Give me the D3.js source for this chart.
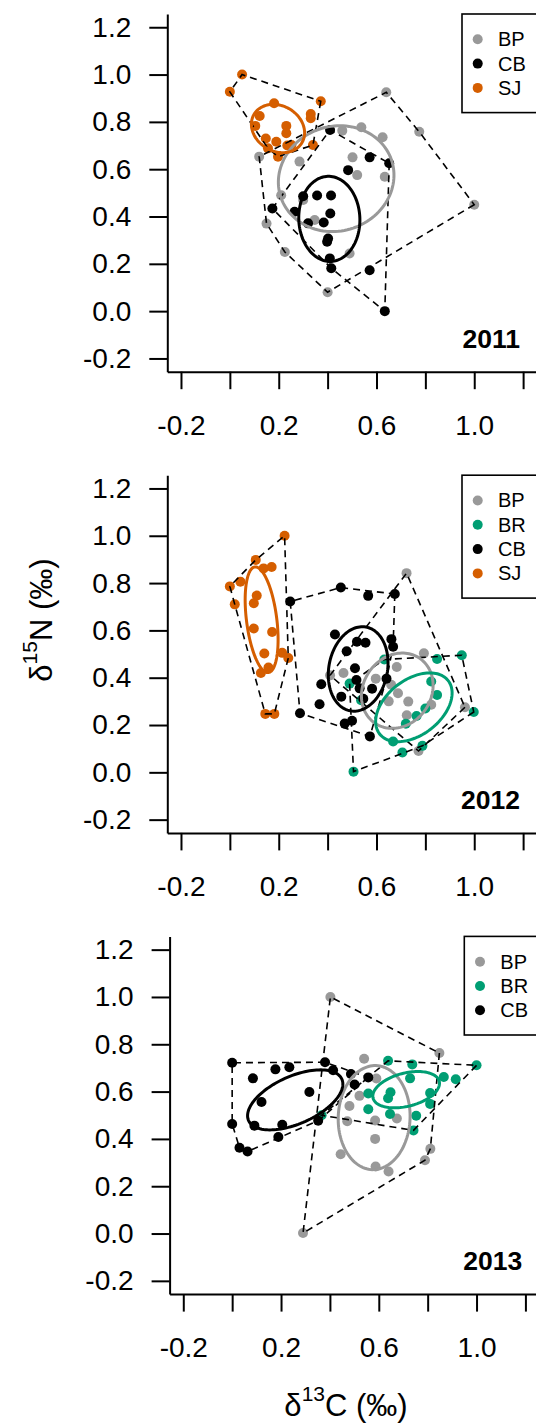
<!DOCTYPE html>
<html>
<head>
<meta charset="utf-8">
<script src="https://cdn.jsdelivr.net/npm/d3@7"></script>
<style>
  body { margin: 0; background: #fff; }
  svg { display: block; }
  text { font-family: Arial, "Liberation Sans", sans-serif; fill: #000; }
</style>
</head>
<body>
<div id="chart"></div>
<script>
// groups and ticks
const groups = ["BP", "BR", "CB", "SJ"];
const years = ["2011", "2012", "2013"];
const yTicks = [-0.2, 0, 0.2, 0.4, 0.6, 0.8, 1.0, 1.2];
const xTicks = [-0.2, 0, 0.2, 0.4, 0.6, 0.8, 1.0, 1.2];
const xTickLabels = [-0.2, 0.2, 0.6, 1.0];

// 2011 isotope values [d13C, d15N]
const bp2011 = [[0.64,0.925],[0.775,0.758],[1.0,0.45],[0.40,0.08],[0.225,0.25],[0.15,0.37],[0.12,0.653],
  [0.285,0.632],[0.46,0.763],[0.538,0.777],[0.625,0.735],[0.502,0.65],[0.521,0.575],[0.634,0.568],
  [0.21,0.49],[0.30,0.47],[0.347,0.385],[0.49,0.244]];
const cb2011 = [[0.41,0.766],[0.572,0.65],[0.652,0.625],[0.484,0.596],[0.30,0.486],[0.357,0.489],[0.414,0.489],
  [0.174,0.434],[0.265,0.42],[0.411,0.413],[0.384,0.375],[0.32,0.371],[0.402,0.307],[0.398,0.293],
  [0.409,0.223],[0.415,0.181],[0.572,0.173],[0.634,0.0]];
const sj2011 = [[0.05,1.0],[0.0,0.927],[0.372,0.887],[0.181,0.879],[0.331,0.833],[0.331,0.815],[0.122,0.825],
  [0.104,0.783],[0.231,0.783],[0.231,0.752],[0.147,0.73],[0.19,0.716],[0.252,0.702],[0.34,0.702],
  [0.156,0.688],[0.197,0.653],[0.235,0.70]];

// 2012
const bp2012 = [[0.723,0.842],[0.794,0.503],[0.683,0.445],[0.465,0.42],[0.41,0.41],[0.597,0.396],[0.66,0.37],
  [0.688,0.334],[0.73,0.299],[0.65,0.30],[0.724,0.241],[0.824,0.286],[0.962,0.275],[0.772,0.09]];
const br2012 = [[0.506,0.003],[0.949,0.495],[0.848,0.479],[0.998,0.255],[0.706,0.084],[0.668,0.13],[0.788,0.112],
  [0.764,0.238],[0.72,0.205],[0.848,0.327],[0.824,0.384],[0.49,0.375],[0.537,0.305],[0.632,0.477],[0.80,0.27]];
const cb2012 = [[0.247,0.722],[0.454,0.781],[0.566,0.746],[0.675,0.754],[0.43,0.583],[0.478,0.512],[0.52,0.552],
  [0.555,0.548],[0.661,0.563],[0.668,0.531],[0.512,0.44],[0.374,0.372],[0.367,0.288],[0.287,0.25],
  [0.456,0.32],[0.518,0.39],[0.531,0.355],[0.582,0.353],[0.641,0.396],[0.47,0.206],[0.5,0.218],
  [0.573,0.152],[0.546,0.311]];
const sj2012 = [[0.224,1.0],[0.106,0.898],[0.171,0.868],[0.138,0.862],[0.0,0.786],[0.043,0.806],[0.02,0.71],
  [0.098,0.715],[0.11,0.747],[0.098,0.608],[0.173,0.593],[0.141,0.502],[0.214,0.505],[0.239,0.483],
  [0.127,0.42],[0.158,0.443],[0.145,0.247],[0.182,0.247]];

// 2013
const bp2013 = [[0.402,1.0],[0.848,0.763],[0.29,0.002],[0.811,0.358],[0.789,0.31],[0.64,0.262],[0.587,0.283],
  [0.444,0.335],[0.585,0.4],[0.54,0.739],[0.59,0.655],[0.521,0.582],[0.48,0.539],[0.471,0.475],
  [0.585,0.478],[0.674,0.486]];
const br2013 = [[1.0,0.711],[0.638,0.73],[0.737,0.715],[0.866,0.662],[0.915,0.652],[0.728,0.656],[0.81,0.594],
  [0.81,0.548],[0.648,0.597],[0.638,0.572],[0.557,0.592],[0.557,0.525],[0.646,0.505],[0.753,0.498],
  [0.742,0.436],[0.366,0.5]];
const cb2013 = [[0.0,0.722],[0.38,0.724],[0.085,0.656],[0.177,0.694],[0.234,0.703],[0.413,0.69],[0.486,0.674],
  [0.557,0.66],[0.501,0.63],[0.316,0.598],[0.12,0.556],[0.0,0.463],[0.091,0.456],[0.205,0.46],
  [0.352,0.477],[0.189,0.408],[0.03,0.363],[0.063,0.347]];

// standard ellipses: group, centre x, centre y, semi-major, semi-minor, angle (deg)
const ell2011 = [["BP",0.435,0.56,0.24,0.22,25],["CB",0.407,0.39,0.18,0.125,92],["SJ",0.197,0.772,0.115,0.095,-35]];
const ell2012 = [["BP",0.685,0.345,0.165,0.14,60],["BR",0.753,0.275,0.18,0.115,40],
  ["CB",0.525,0.437,0.18,0.12,80],["SJ",0.13,0.645,0.225,0.062,97]];
const ell2013 = [["BP",0.581,0.49,0.22,0.147,88],["BR",0.712,0.608,0.14,0.07,15],["CB",0.258,0.565,0.21,0.10,25]];

const panels = [
  { year: years[0], sets: { BP: bp2011, CB: cb2011, SJ: sj2011 }, ells: ell2011 },
  { year: years[1], sets: { BP: bp2012, BR: br2012, CB: cb2012, SJ: sj2012 }, ells: ell2012 },
  { year: years[2], sets: { BP: bp2013, BR: br2013, CB: cb2013 }, ells: ell2013 }
];

const width = 536, height = 1425;
const plotW = 369.5, plotH = 357.7;
const tops = [14, 475.2, 936.4];
const lefts = [167.3, 167.3, 169.6];

const color = d3.scaleOrdinal()
  .domain(groups)
  .range(["#999999", "#009E73", "#000000", "#D55E00"]);

const fmt = d => d3.format(".1f")(d).replace("\u2212", "-");

const svg = d3.select("#chart").append("svg")
  .attr("width", width)
  .attr("height", height);

panels.forEach((p, i) => {
  const g = svg.append("g").attr("transform", "translate(" + lefts[i] + "," + tops[i] + ")");

  const x = d3.scaleLinear().domain([-0.256, 1.256]).range([0, plotW]);
  const y = d3.scaleLinear().domain([-0.256, 1.256]).range([plotH, 0]);

  const yAxis = g.append("g")
    .call(d3.axisLeft(y).tickValues(yTicks).tickSize(18).tickSizeOuter(0).tickPadding(18).tickFormat(fmt));
  const xAxis = g.append("g")
    .attr("transform", "translate(0," + plotH + ")")
    .call(d3.axisBottom(x).tickValues(xTicks).tickSize(17.5).tickSizeOuter(0).tickPadding(26)
      .tickFormat(d => xTickLabels.includes(d) ? fmt(d) : ""));
  [yAxis, xAxis].forEach(a => {
    a.selectAll("path, line").attr("stroke", "#000").attr("stroke-width", 2);
    a.selectAll("text").attr("font-size", 28).attr("fill", "#000")
      .style("font-family", "Arial, 'Liberation Sans', sans-serif");
  });

  const present = groups.filter(k => p.sets[k]);

  // points
  present.forEach(k => {
    g.append("g").selectAll("circle")
      .data(p.sets[k])
      .enter()
      .append("circle")
      .attr("cx", d => x(d[0]))
      .attr("cy", d => y(d[1]))
      .attr("r", 5)
      .attr("fill", color(k));
  });

  // convex hulls
  const line = d3.line().x(d => x(d[0])).y(d => y(d[1])).curve(d3.curveLinearClosed);
  present.forEach(k => {
    g.append("path")
      .attr("d", line(d3.polygonHull(p.sets[k])))
      .attr("fill", "none")
      .attr("stroke", "#000")
      .attr("stroke-width", 1.6)
      .attr("stroke-dasharray", "7,5");
  });

  // ellipses
  p.ells.forEach(e => {
    const th = e[5] * Math.PI / 180;
    const pts = d3.range(0, 2 * Math.PI, Math.PI / 60).map(t => [
      e[1] + e[3] * Math.cos(th) * Math.cos(t) - e[4] * Math.sin(th) * Math.sin(t),
      e[2] + e[3] * Math.sin(th) * Math.cos(t) + e[4] * Math.cos(th) * Math.sin(t)
    ]);
    g.append("path")
      .attr("d", line(pts))
      .attr("fill", "none")
      .attr("stroke", color(e[0]))
      .attr("stroke-width", 3);
  });

  // legend
  const lx = 462 - lefts[0];
  const leg = g.append("g").attr("transform", "translate(" + lx + ",0)");
  leg.append("rect")
    .attr("x", 0).attr("y", 0)
    .attr("width", 120)
    .attr("height", 50 + (present.length - 1) * 24.3)
    .attr("fill", "#fff")
    .attr("stroke", "#000")
    .attr("stroke-width", 1.6);
  present.forEach((k, j) => {
    const ly = 25.3 + j * 24.3;
    leg.append("circle").attr("cx", 15.7).attr("cy", ly).attr("r", 5).attr("fill", color(k));
    leg.append("text").attr("x", 36).attr("y", ly + 7).attr("font-size", 20).text(k);
  });

  // year
  g.append("text")
    .attr("x", 520 - lefts[0])
    .attr("y", 333.5)
    .attr("text-anchor", "end")
    .attr("font-size", 26.5)
    .attr("font-weight", "bold")
    .text(p.year);
});

// axis titles
const yt = svg.append("text")
  .attr("transform", "translate(52,620) rotate(-90)")
  .attr("text-anchor", "middle")
  .attr("font-size", 31);
yt.append("tspan").text("\u03b4");
yt.append("tspan").attr("font-size", 21).attr("dy", -15).text("15");
yt.append("tspan").attr("dy", 15).text("N (\u2030)");

const xt = svg.append("text")
  .attr("x", 346)
  .attr("y", 1416)
  .attr("text-anchor", "middle")
  .attr("font-size", 31);
xt.append("tspan").text("\u03b4");
xt.append("tspan").attr("font-size", 21).attr("dy", -15).text("13");
xt.append("tspan").attr("dy", 15).text("C (\u2030)");
</script>
</body>
</html>
